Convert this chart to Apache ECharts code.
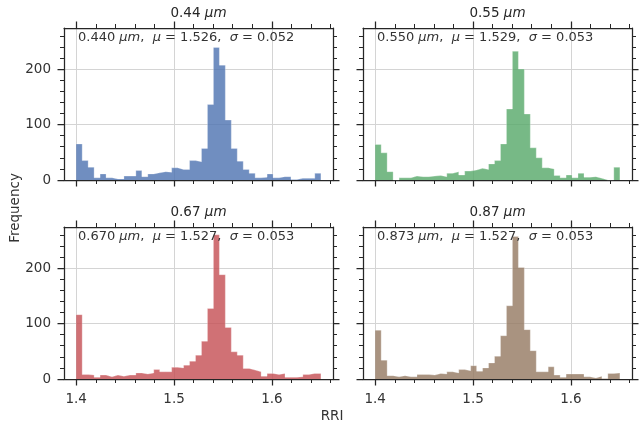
<!DOCTYPE html>
<html>
<head>
<meta charset="utf-8">
<script src="https://cdn.jsdelivr.net/npm/echarts@6/dist/echarts.min.js"></script>
<style>
  html, body { margin: 0; padding: 0; background: #ffffff; }
  #chart { width: 640px; height: 427px; }
</style>
</head>
<body>
<div id="chart"></div>
<script>
// Histogram binning shared by all four panels
const binLo = 1.40;
const binHi = 1.65;
const binCount = 41;

// Panel headings and summary statistics
const waveTitles = ['0.44', '0.55', '0.67', '0.87'];
const waveExact = ['0.440', '0.550', '0.670', '0.873'];
const meanRRI = ['1.526', '1.529', '1.527', '1.527'];
const sigmaRRI = ['0.052', '0.053', '0.053', '0.053'];

// Counts per RRI bin, one array per wavelength
const counts440 = [65, 35, 23, 4, 11, 4, 2, 2, 7, 7, 17, 6, 11, 13, 15, 14, 22, 19, 19, 35, 33, 57, 136, 239, 207, 108, 57, 34, 19, 12, 4, 5, 11, 4, 6, 6, 1, 3, 3, 3, 12];
const counts550 = [64, 49, 15, 0, 4, 4, 7, 6, 6, 7, 8, 6, 12, 15, 9, 16, 18, 21, 19, 29, 35, 65, 128, 232, 200, 119, 58, 40, 22, 20, 8, 4, 9, 4, 12, 5, 6, 3, 0, 0, 23];
const counts670 = [116, 8, 7, 3, 7, 4, 7, 5, 7, 7, 11, 9, 11, 17, 13, 13, 21, 20, 25, 32, 43, 68, 127, 260, 188, 93, 49, 43, 19, 16, 13, 5, 10, 8, 10, 3, 3, 4, 8, 10, 10];
const counts873 = [88, 34, 6, 4, 6, 4, 4, 8, 8, 7, 10, 9, 13, 11, 17, 15, 24, 14, 20, 29, 41, 78, 132, 257, 201, 89, 51, 13, 13, 22, 7, 3, 9, 9, 9, 4, 2, 5, 1, 10, 11];

// Tick positions
const xMajorTicks = [1.4, 1.5, 1.6];
const xMinorTicks = [1.42, 1.44, 1.46, 1.48, 1.52, 1.54, 1.56, 1.58, 1.62, 1.64, 1.66];
const yMajorTicks = [0, 100, 200];
const yMinorTicks = [20, 40, 60, 80, 120, 140, 160, 180, 220, 240, 260];

const allCounts = [counts440, counts550, counts670, counts873];
const colors = ['rgba(76,114,176,0.8)', 'rgba(85,168,104,0.8)', 'rgba(196,78,82,0.8)', 'rgba(147,120,96,0.8)'];

const FONT = 'DejaVu Sans';
const INK = '#262626';
const TEXT = '#333333';
const GRIDC = '#d4d4d4';

const xMin = 1.3875, xMax = 1.6625;
const yMin = 0, yMax = 274;

const panelLeft = [64, 363];
const panelTop = [28, 227];
const panelW = 269, panelH = 152;

const grids = [], xAxes = [], yAxes = [], series = [], graphics = [];

function stepPoints(counts) {
  const w = (binHi - binLo) / binCount;
  const pts = counts.map((c, k) => [binLo + k * w, c]);
  pts.push([binHi, counts[counts.length - 1]]);
  return pts;
}

for (let i = 0; i < 4; i++) {
  const row = Math.floor(i / 2), col = i % 2;
  const left = panelLeft[col], top = panelTop[row];
  grids.push({ left: left, top: top, width: panelW, height: panelH, containLabel: false });

  const spine = { show: true, onZero: false, lineStyle: { color: INK, width: 1.25 } };
  const majTick = len => ({ show: true, length: len, lineStyle: { color: INK, width: 1.25 } });
  const minTick = { show: true, length: 4, lineStyle: { color: INK, width: 1 } };
  const xb = { gridIndex: i, type: 'value', min: xMin, max: xMax };
  const yb = { gridIndex: i, type: 'value', min: yMin, max: yMax };

  xAxes.push(
    Object.assign({}, xb, {
      position: 'bottom', axisLine: spine,
      axisTick: Object.assign(majTick(6.5), { customValues: xMajorTicks }),
      axisLabel: { show: row === 1, customValues: xMajorTicks, formatter: v => v.toFixed(1),
        color: TEXT, fontFamily: FONT, fontSize: 13.5, margin: 13 },
      splitLine: { show: true, lineStyle: { color: GRIDC, width: 1 } }
    }),
    Object.assign({}, xb, {
      position: 'bottom', axisLine: { show: false, onZero: false },
      axisTick: Object.assign({}, minTick, { customValues: xMinorTicks }),
      axisLabel: { show: false }, splitLine: { show: false }
    }),
    Object.assign({}, xb, {
      position: 'top', axisLine: spine,
      axisTick: Object.assign(majTick(6.5), { customValues: xMajorTicks }),
      axisLabel: { show: false }, splitLine: { show: false }
    }),
    Object.assign({}, xb, {
      position: 'top', axisLine: { show: false, onZero: false },
      axisTick: Object.assign({}, minTick, { customValues: xMinorTicks }),
      axisLabel: { show: false }, splitLine: { show: false }
    })
  );

  yAxes.push(
    Object.assign({}, yb, {
      position: 'left', axisLine: spine,
      axisTick: Object.assign(majTick(6.5), { customValues: yMajorTicks }),
      axisLabel: { show: col === 0, customValues: yMajorTicks, color: TEXT,
        fontFamily: FONT, fontSize: 13.5, margin: 13 },
      splitLine: { show: true, lineStyle: { color: GRIDC, width: 1 } }
    }),
    Object.assign({}, yb, {
      position: 'left', axisLine: { show: false, onZero: false },
      axisTick: Object.assign({}, minTick, { customValues: yMinorTicks }),
      axisLabel: { show: false }, splitLine: { show: false }
    }),
    Object.assign({}, yb, {
      position: 'right', axisLine: spine,
      axisTick: Object.assign(majTick(6.5), { customValues: yMajorTicks }),
      axisLabel: { show: false }, splitLine: { show: false }
    }),
    Object.assign({}, yb, {
      position: 'right', axisLine: { show: false, onZero: false },
      axisTick: Object.assign({}, minTick, { customValues: yMinorTicks }),
      axisLabel: { show: false }, splitLine: { show: false }
    })
  );

  // Step-filled histogram drawn on the panel's main axes
  series.push({
    type: 'line', xAxisIndex: 4 * i, yAxisIndex: 4 * i,
    step: 'end', symbol: 'none', silent: true, z: 3,
    lineStyle: { width: 0.8, color: 'rgba(255,255,255,0.35)' },
    areaStyle: { color: colors[i], opacity: 1 },
    data: stepPoints(allCounts[i])
  });

  // Panel title
  graphics.push({
    type: 'text', x: left + panelW / 2, y: top - 15, z: 10,
    style: {
      text: '{n|' + waveTitles[i] + ' }{i|μm}',
      align: 'center', verticalAlign: 'middle',
      rich: {
        n: { fontFamily: FONT, fontSize: 13.5, fill: INK },
        i: { fontFamily: FONT, fontSize: 13.5, fontStyle: 'italic', fill: INK }
      }
    }
  });

  // Summary statistics inside the panel
  graphics.push({
    type: 'text', x: left + 14, y: top + 10, z: 10,
    style: {
      text: '{n|' + waveExact[i] + ' }{i|μm}{n|,  }{i|μ}{n| = ' + meanRRI[i] + ',  }{i|σ}{n| = ' + sigmaRRI[i] + '}',
      align: 'left', verticalAlign: 'middle',
      rich: {
        n: { fontFamily: FONT, fontSize: 13, fill: TEXT },
        i: { fontFamily: FONT, fontSize: 13, fontStyle: 'italic', fill: TEXT }
      }
    }
  });
}

graphics.push(
  { type: 'text', x: 15, y: 208, rotation: Math.PI / 2, z: 10,
    style: { text: 'Frequency', fontFamily: FONT, fontSize: 13.5, fill: TEXT, align: 'center', verticalAlign: 'middle' } },
  { type: 'text', x: 332, y: 416, z: 10,
    style: { text: 'RRI', fontFamily: FONT, fontSize: 13.5, fill: TEXT, align: 'center', verticalAlign: 'middle' } }
);

const chart = echarts.init(document.getElementById('chart'), null, { renderer: 'canvas' });
chart.setOption({
  animation: false,
  backgroundColor: '#ffffff',
  grid: grids,
  xAxis: xAxes,
  yAxis: yAxes,
  series: series,
  graphic: graphics
});
</script>
</body>
</html>
